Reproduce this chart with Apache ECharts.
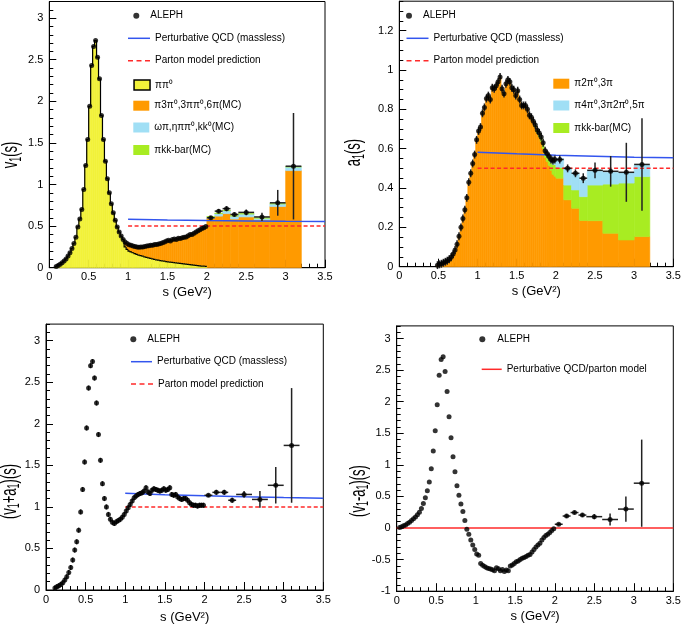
<!DOCTYPE html>
<html><head><meta charset="utf-8">
<script src="https://cdn.jsdelivr.net/npm/echarts@6/dist/echarts.min.js"></script>
<style>html,body{margin:0;padding:0;background:#fff}#c{width:685px;height:629px}</style>
</head><body><div id="c"></div>
<script>
// ================= DATA =================
const FINE_W = 0.025;                       // ALEPH fine bin width (GeV^2)
const wideS  = [2.05, 2.15, 2.25, 2.35, 2.5, 2.7, 2.9, 3.1];
const wideHW = [0.05, 0.05, 0.05, 0.05, 0.1, 0.1, 0.1, 0.1];

// ---- v1(s) ----
const v1Start = 0.0875;
const v1 = [0.015,0.025,0.04,0.06,0.08, 0.105,0.14,0.18,0.23,0.29, 0.365,0.49,0.585,0.70,0.94,
  1.23,1.54,1.94,2.43,2.66, 2.73,2.53,2.27,1.83,1.54, 1.28,1.07,0.9,0.77,0.66, 0.57,0.49,0.43,0.38,0.34,
  0.31,0.29,
  0.275,0.27,0.26,0.255,0.25, 0.245,0.25,0.25,0.255,0.26, 0.265,0.27,0.27,0.28,0.28,
  0.285,0.29,0.3,0.31,0.32, 0.33,0.32,0.34,0.345,0.34, 0.355,0.35,0.36,0.365,0.37,
  0.385,0.4,0.4,0.415,0.43, 0.445,0.455,0.47,0.48,0.495];
const v1TailIndex = 35;                     // first bin where ππ0 falls below data
const v1PiPi0Tail = [0.25,0.22,0.2,0.19,0.18, 0.17,0.16,0.152,0.145,0.138, 0.13,0.123,0.117,0.111,0.105,
  0.1,0.095,0.09,0.086,0.082, 0.078,0.074,0.07,0.067,0.064, 0.061,0.058,0.055,0.052,0.049,
  0.046,0.043,0.04,0.037,0.034, 0.031,0.028,0.025,0.022,0.02, 0.018,0.016];
const v1Wide    = [0.60, 0.68, 0.71, 0.64, 0.665, 0.61, 0.78, 1.22];
const v1WideErr = [0.02, 0.025, 0.03, 0.025, 0.035, 0.05, 0.155, 0.64];
const v1OrangeWide = [0.594, 0.62, 0.65, 0.585, 0.61, 0.575, 0.735, 1.167];
const v1CyanWide   = [0.61, 0.65, 0.685, 0.62, 0.645, 0.595, 0.766, 1.21];
const v1GreenWide  = [0.615, 0.657, 0.69, 0.625, 0.65, 0.6, 0.77, 1.215];

// ---- a1(s) ----
const a1Start = 0.4875;
const a1 = [0.008,0.012,0.015,0.02,0.025, 0.03,0.038,0.048,0.064,0.085,
  0.114,0.155,0.2,0.245,0.29, 0.35,0.43,0.475,0.525,0.57,
  0.645,0.69,0.71,0.78,0.81, 0.855,0.87,0.85,0.91,0.905,
  0.92,0.94,0.965,0.905,0.88, 0.93,0.95,0.94,0.91,0.9,
  0.87,0.895,0.85,0.82,0.82, 0.82,0.8,0.77,0.76,0.74,
  0.72,0.695,0.68,0.66,0.63, 0.59,0.575,0.56,0.545,0.54, 0.545];
const a1FineErr = 0.02;
const a1TailIndex = 50;
const a1OrangeTail = [0.71,0.68,0.66,0.635,0.6,0.555,0.535,0.515,0.49,0.47,0.46];
const a1GreenTail  = [0.72,0.695,0.68,0.66,0.63,0.585,0.57,0.55,0.53,0.52,0.52];
const a1Wide    = [0.545, 0.5, 0.475, 0.45, 0.49, 0.485, 0.48, 0.52];
const a1WideErr = [0.02, 0.02, 0.02, 0.025, 0.04, 0.078, 0.15, 0.235];
const a1OrangeWide = [0.45, 0.34, 0.297, 0.235, 0.234, 0.17, 0.136, 0.153];
const a1GreenWide  = [0.505, 0.415, 0.39, 0.356, 0.415, 0.42, 0.425, 0.458];
const a1CyanWide   = [0.55, 0.5, 0.475, 0.44, 0.485, 0.48, 0.478, 0.517];

// ---- (v1+a1)(s) ----
const vpaStart = 0.1125;
const vpa = [0.025,0.04,0.05,0.065,0.088, 0.12,0.16,0.21,0.27,0.36, 0.48,0.58,0.72,0.94,1.21,
  1.54,1.95,2.43,2.7,2.75, 2.55,2.25,1.87,1.56,1.28, 1.1,1.0,0.91,0.85,0.815,
  0.8,0.82,0.835,0.85,0.875, 0.91,0.95,0.99,1.03,1.07, 1.11,1.13,1.15,1.16,1.17,
  1.19,1.23,1.18,1.16,1.2, 1.22,1.21,1.2,1.19,1.2, 1.22,1.2,1.21,1.23,1.15,
  1.14,1.15,1.12,1.1,1.09, 1.1,1.1,1.08,1.05,1.03, 1.02,1.02,1.01,1.02,1.02, 1.02];
const vpaFineErr = 0.03;
const vpaWide    = [1.14, 1.175, 1.175, 1.08, 1.15, 1.09, 1.26, 1.74];
const vpaWideErr = [0.02, 0.03, 0.03, 0.03, 0.04, 0.1, 0.22, 0.69];

// ---- (v1-a1)(s) ----
const vmaStart = 0.0375;
const vma = [0.01,0.02,0.035,0.05,0.07, 0.09,0.12,0.145,0.175,0.21,
  0.25,0.31,0.39,0.48,0.59, 0.73,0.94,1.22,1.54,1.95,
  2.42,2.67,2.71,2.48,2.16, 1.76,1.43,1.13,0.89,0.67,
  0.52,0.38,0.26,0.12,-0.02, -0.1,-0.19,-0.27,-0.34,-0.41,
  -0.43,-0.56,-0.59,-0.61,-0.63, -0.64,-0.65,-0.66,-0.675,-0.63,
  -0.645,-0.675,-0.655,-0.69,-0.665, -0.675,-0.6,-0.585,-0.56,-0.535,
  -0.52,-0.5,-0.48,-0.465,-0.45, -0.43,-0.42,-0.38,-0.34,-0.3,
  -0.27,-0.24,-0.19,-0.15,-0.12, -0.1,-0.07,-0.04,-0.01];
const vmaWide    = [0.06, 0.19, 0.245, 0.205, 0.18, 0.135, 0.3, 0.71];
const vmaWideErr = [0.02, 0.03, 0.03, 0.03, 0.04, 0.095, 0.2, 0.69];

// ---- model curves ----
const pqcdS  = [1.0, 1.5, 2.0, 2.5, 3.0, 3.5];
const pqcdV  = [0.582, 0.574, 0.567, 0.562, 0.557, 0.554];
const pqcdVA = [1.164, 1.145, 1.133, 1.122, 1.113, 1.105];
const partonS = [1.0, 3.5];
const partonV = [0.5, 0.5];
const partonVA = [1.0, 1.0];
const zeroS = [0, 3.5];
const zeroV = [0, 0];

// ================= STYLE =================
const FONT = '"Liberation Sans", Arial, Helvetica, sans-serif';
const COL = {yellow:'#f2f23a', orange:'#ff9a00', cyan:'#a0dff5', green:'#a8ec22', blue:'#3355ee', red:'#ff2a2a', err:'#222'};
const NAMES = {aleph:'ALEPH', pqcd:'Perturbative QCD (massless)', parton:'Parton model prediction',
  pipi0:'ππ⁰', v4pi:'π3π⁰,3ππ⁰,6π(MC)', vomega:'ωπ,ηππ⁰,kk⁰(MC)', kk:'πkk-bar(MC)',
  a3pi:'π2π⁰,3π', a5pi:'π4π⁰,3π2π⁰,5π', zero:'Perturbative QCD/parton model'};
const DASH_ICON = 'path://M0,0h5v1.5h-5z M8.5,0h5v1.5h-5z M17,0h5v1.5h-5z';

// ================= HELPERS =================
function sAt(start, i){ return +(start + i*FINE_W).toFixed(4); }
function fineBin(start, i, b, t){ const c = sAt(start,i); return [c-FINE_W/2, c+FINE_W/2, b, t]; }
function wideBin(i, b, t){ return [wideS[i]-wideHW[i], wideS[i]+wideHW[i], b, t]; }

function histSeries(name, p, color, bins, outline, z){
  return {
    type:'custom', name, xAxisIndex:2*p, yAxisIndex:2*p, z:z||1, silent:true,
    itemStyle:{color}, encode:{x:[0,1], y:[2,3]}, data:bins,
    renderItem(params, api){
      const x0=api.value(0), x1=api.value(1), b=api.value(2), t=api.value(3);
      const pa=api.coord([x0,t]), pb=api.coord([x1,b]);
      const kids=[{type:'rect', shape:{x:pa[0], y:pa[1], width:pb[0]-pa[0], height:pb[1]-pa[1]},
        style:{fill:color, stroke:color, lineWidth:0.6}}];
      if(outline){
        const q0=api.coord([x0, api.value(4)]);
        kids.push({type:'polyline', shape:{points:[[q0[0],q0[1]],[pa[0],pa[1]],[pb[0],pa[1]]]},
          style:{stroke:'#000', lineWidth:1.2, fill:null}});
      }
      return {type:'group', children:kids};
    }
  };
}
function errSeries(p, items){
  return {
    type:'custom', xAxisIndex:2*p, yAxisIndex:2*p, z:4, silent:true, encode:{x:0, y:1}, data:items,
    renderItem(params, api){
      const s=api.value(0), v=api.value(1), e=api.value(2), hw=api.value(3);
      const kids=[];
      if(e>0){ const a=api.coord([s,v-e]), b=api.coord([s,v+e]);
        kids.push({type:'line', shape:{x1:a[0],y1:a[1],x2:b[0],y2:b[1]}, style:{stroke:COL.err, lineWidth:1.5}}); }
      if(hw>0){ const a=api.coord([s-hw,v]), b=api.coord([s+hw,v]);
        kids.push({type:'line', shape:{x1:a[0],y1:a[1],x2:b[0],y2:b[1]}, style:{stroke:COL.err, lineWidth:1.5}}); }
      return {type:'group', children:kids};
    }
  };
}
function pointsSeries(p, start, fine, wide){
  const d = fine.map((v,i)=>[sAt(start,i), v]).concat(wide.map((v,i)=>[wideS[i], v]));
  return {type:'scatter', name:NAMES.aleph, xAxisIndex:2*p, yAxisIndex:2*p, z:5, silent:true,
    symbol:'circle', symbolSize:5, itemStyle:{color:'#000'}, data:d};
}
function errItems(start, fine, fineErr, wide, wideErr){
  const d = [];
  if(fineErr>0) fine.forEach((v,i)=>d.push([sAt(start,i), v, fineErr, 0]));
  wide.forEach((v,i)=>d.push([wideS[i], v, wideErr[i], wideHW[i]]));
  return d;
}
function lineSeries(name, p, xs, ys, color, dashed){
  return {type:'line', name, xAxisIndex:2*p, yAxisIndex:2*p, z:3, silent:true, symbol:'none', showSymbol:false,
    lineStyle:{color, width:1.5, type: dashed ? [4,2.5] : 'solid'}, itemStyle:{color},
    data: xs.map((x,i)=>[x, ys[i]])};
}

// ================= SERIES =================
const series = [];
// --- panel 0: v1 ---
const v1Yellow = v1.slice(0, v1TailIndex).concat(v1PiPi0Tail);
series.push(histSeries(NAMES.pipi0, 0, COL.yellow,
  v1Yellow.map((t,i)=>fineBin(v1Start,i,0,t).concat([i>0 ? v1Yellow[i-1] : 0])), true, 2));
series.push(histSeries(NAMES.v4pi, 0, COL.orange,
  v1Yellow.map((y,i)=>i>=v1TailIndex ? fineBin(v1Start,i,y,v1[i]) : null).filter(Boolean)
    .concat(v1OrangeWide.map((t,i)=>wideBin(i,0,t)))));
series.push(histSeries(NAMES.vomega, 0, COL.cyan, v1CyanWide.map((t,i)=>wideBin(i,v1OrangeWide[i],t))));
series.push(histSeries(NAMES.kk, 0, COL.green, v1GreenWide.map((t,i)=>wideBin(i,v1CyanWide[i],t))));
series.push(lineSeries(NAMES.pqcd, 0, pqcdS, pqcdV, COL.blue, false));
series.push(lineSeries(NAMES.parton, 0, partonS, partonV, COL.red, true));
series.push(errSeries(0, errItems(v1Start, v1, 0, v1Wide, v1WideErr)));
series.push(pointsSeries(0, v1Start, v1, v1Wide));

// --- panel 1: a1 ---
const a1Orange = a1.slice(0, a1TailIndex).concat(a1OrangeTail);
series.push(histSeries(NAMES.a3pi, 1, COL.orange,
  a1Orange.map((t,i)=>fineBin(a1Start,i,0,t)).concat(a1OrangeWide.map((t,i)=>wideBin(i,0,t)))));
series.push(histSeries(NAMES.kk, 1, COL.green,
  a1GreenTail.map((t,k)=>fineBin(a1Start,a1TailIndex+k,a1OrangeTail[k],t))
    .concat(a1GreenWide.map((t,i)=>wideBin(i,a1OrangeWide[i],t)))));
series.push(histSeries(NAMES.a5pi, 1, COL.cyan,
  a1GreenTail.map((g,k)=>fineBin(a1Start,a1TailIndex+k,g,a1[a1TailIndex+k]))
    .concat(a1CyanWide.map((t,i)=>wideBin(i,a1GreenWide[i],t)))));
series.push(lineSeries(NAMES.pqcd, 1, pqcdS, pqcdV, COL.blue, false));
series.push(lineSeries(NAMES.parton, 1, partonS, partonV, COL.red, true));
series.push(errSeries(1, errItems(a1Start, a1, a1FineErr, a1Wide, a1WideErr)));
series.push(pointsSeries(1, a1Start, a1, a1Wide));

// --- panel 2: v1+a1 ---
series.push(lineSeries(NAMES.pqcd, 2, pqcdS, pqcdVA, COL.blue, false));
series.push(lineSeries(NAMES.parton, 2, partonS, partonVA, COL.red, true));
series.push(errSeries(2, errItems(vpaStart, vpa, vpaFineErr, vpaWide, vpaWideErr)));
series.push(pointsSeries(2, vpaStart, vpa, vpaWide));

// --- panel 3: v1-a1 ---
series.push(lineSeries(NAMES.zero, 3, zeroS, zeroV, COL.red, false));
series.push(errSeries(3, errItems(vmaStart, vma, 0, vmaWide, vmaWideErr)));
series.push(pointsSeries(3, vmaStart, vma, vmaWide));

// ================= AXES / GRIDS =================
const panels = [
  {grid:{left:49.3, top:1.5, width:275.7, height:266.2}, yMin:0, yMax:3.2, yMajor:0.5, yMinor:0.1, gap:18},
  {grid:{left:399.3, top:1.2, width:274, height:265.5}, yMin:0, yMax:1.35, yMajor:0.2, yMinor:0.05, gap:18},
  {grid:{left:46, top:324.1, width:277.3, height:265.9}, yMin:0, yMax:3.2, yMajor:0.5, yMinor:0.1, gap:21},
  {grid:{left:396.7, top:325.9, width:276.6, height:265.3}, yMin:-1, yMax:3.2, yMajor:0.5, yMinor:0.1, gap:19}
];
const grid=[], xAxis=[], yAxis=[];
const lab = {fontSize:11, color:'#000', fontFamily:FONT};
panels.forEach((p,gi)=>{
  grid.push(Object.assign({show:true, borderColor:'#000', borderWidth:1, backgroundColor:'transparent', containLabel:false, outerBoundsMode:'none'}, p.grid));
  xAxis.push({type:'value', gridIndex:gi, position:'bottom', min:0, max:3.5, interval:0.5,
    name:'s (GeV²)', nameLocation:'middle', nameGap:p.gap, nameTextStyle:{fontSize:13, color:'#000', fontFamily:FONT},
    axisLine:{show:true, onZero:false, lineStyle:{color:'#000', width:1}},
    axisTick:{show:true, inside:true, length:8, lineStyle:{color:'#000', width:1}},
    axisLabel:Object.assign({margin:4}, lab), splitLine:{show:false}, minorTick:{show:false}});
  xAxis.push({type:'value', gridIndex:gi, position:'bottom', min:0, max:3.5, interval:0.1,
    axisLine:{show:false, onZero:false}, axisTick:{show:true, inside:true, length:4, lineStyle:{color:'#000', width:1}},
    axisLabel:{show:false}, splitLine:{show:false}});
  yAxis.push({type:'value', gridIndex:gi, position:'left', min:p.yMin, max:p.yMax, interval:p.yMajor,
    axisLine:{show:true, onZero:false, lineStyle:{color:'#000', width:1}},
    axisTick:{show:true, inside:true, length:7, lineStyle:{color:'#000', width:1}},
    axisLabel:Object.assign({margin:6, showMaxLabel:false}, lab), splitLine:{show:false}});
  yAxis.push({type:'value', gridIndex:gi, position:'left', min:p.yMin, max:p.yMax, interval:p.yMinor,
    axisLine:{show:false, onZero:false}, axisTick:{show:true, inside:true, length:4, lineStyle:{color:'#000', width:1}},
    axisLabel:{show:false}, splitLine:{show:false}});
});

// ================= LEGENDS =================
const boxStyle = c => ({color:c, borderWidth:0});
const lineIcon = (c) => ({icon:'rect', itemStyle:{color:c, borderWidth:0}});
const dashIcon = (c) => ({icon:DASH_ICON, itemStyle:{color:c, borderWidth:0}});
const legendSpecs = [
  Object.assign({name:NAMES.aleph, left:133.3, cy:15.7, w:18, h:6}),
  Object.assign({name:NAMES.pqcd, left:128, cy:38.3, w:22, h:1.5}, lineIcon(COL.blue)),
  Object.assign({name:NAMES.parton, left:128, cy:60.7, w:22, h:1.5}, dashIcon(COL.red)),
  {name:NAMES.pipi0, left:133.3, cy:85, w:16, h:10, icon:'rect', itemStyle:{color:COL.yellow, borderColor:'#000', borderWidth:1.5}},
  {name:NAMES.v4pi, left:133.3, cy:105.7, w:16, h:10, icon:'rect', itemStyle:boxStyle(COL.orange)},
  {name:NAMES.vomega, left:133.3, cy:127.5, w:16, h:10, icon:'rect', itemStyle:boxStyle(COL.cyan)},
  {name:NAMES.kk, left:133.3, cy:150, w:16, h:10, icon:'rect', itemStyle:boxStyle(COL.green)},

  {name:NAMES.aleph, left:406, cy:15.7, w:18, h:6},
  Object.assign({name:NAMES.pqcd, left:406.5, cy:38.3, w:22, h:1.5}, lineIcon(COL.blue)),
  Object.assign({name:NAMES.parton, left:406.5, cy:60.7, w:22, h:1.5}, dashIcon(COL.red)),
  {name:NAMES.a3pi, left:553.3, cy:83.7, w:16, h:10, icon:'rect', itemStyle:boxStyle(COL.orange)},
  {name:NAMES.a5pi, left:553.3, cy:105.5, w:16, h:10, icon:'rect', itemStyle:boxStyle(COL.cyan)},
  {name:NAMES.kk, left:553.3, cy:128, w:16, h:10, icon:'rect', itemStyle:boxStyle(COL.green)},

  {name:NAMES.aleph, left:130.3, cy:339.3, w:18, h:6},
  Object.assign({name:NAMES.pqcd, left:131, cy:361.7, w:21, h:1.5}, lineIcon(COL.blue)),
  Object.assign({name:NAMES.parton, left:131, cy:384, w:22, h:1.5}, dashIcon(COL.red)),

  {name:NAMES.aleph, left:479.3, cy:339.3, w:20, h:6},
  Object.assign({name:NAMES.zero, left:481.7, cy:369.3, w:20, h:1.5}, lineIcon(COL.red))
];
const legend = legendSpecs.map(s=>{
  const item = {name:s.name};
  if(s.icon) item.icon = s.icon;
  if(s.itemStyle) item.itemStyle = s.itemStyle;
  return {show:true, orient:'vertical', left:s.left, top:s.cy-6, padding:0, itemGap:0,
    itemWidth:s.w, itemHeight:s.h, selectedMode:false, data:[item],
    textStyle:{fontSize:10, fontFamily:FONT, color:'#000', lineHeight:12}};
});

// ================= Y TITLES =================
const richT = {
  a:{fontSize:13, fontFamily:FONT, fill:'#000', lineHeight:15},
  b:{fontSize:9, fontFamily:FONT, fill:'#000', lineHeight:9, verticalAlign:'bottom'}
};
const yTitles = [
  {text:'{a|v}{b|1}{a|(s)}', x:11, y:155},
  {text:'{a|a}{b|1}{a|(s)}', x:354, y:152.5},
  {text:'{a|(v}{b|1}{a|+a}{b|1}{a|)(s)}', x:9.5, y:491.5},
  {text:'{a|(v}{b|1}{a|-a}{b|1}{a|)(s)}', x:358.5, y:491}
];
const graphic = yTitles.map(t=>({type:'text', x:t.x, y:t.y, rotation:Math.PI/2, scaleY:1.75, silent:true,
  style:{text:t.text, rich:richT, align:'center', verticalAlign:'middle', font:'13px '+FONT, fill:'#000'}}));

// ================= CHART =================
const chart = echarts.init(document.getElementById('c'), null, {renderer:'canvas'});
chart.setOption({
  animation:false, backgroundColor:'#fff', textStyle:{fontFamily:FONT},
  grid, xAxis, yAxis, legend, graphic, series, tooltip:{show:false}
});
</script>
</body></html>
